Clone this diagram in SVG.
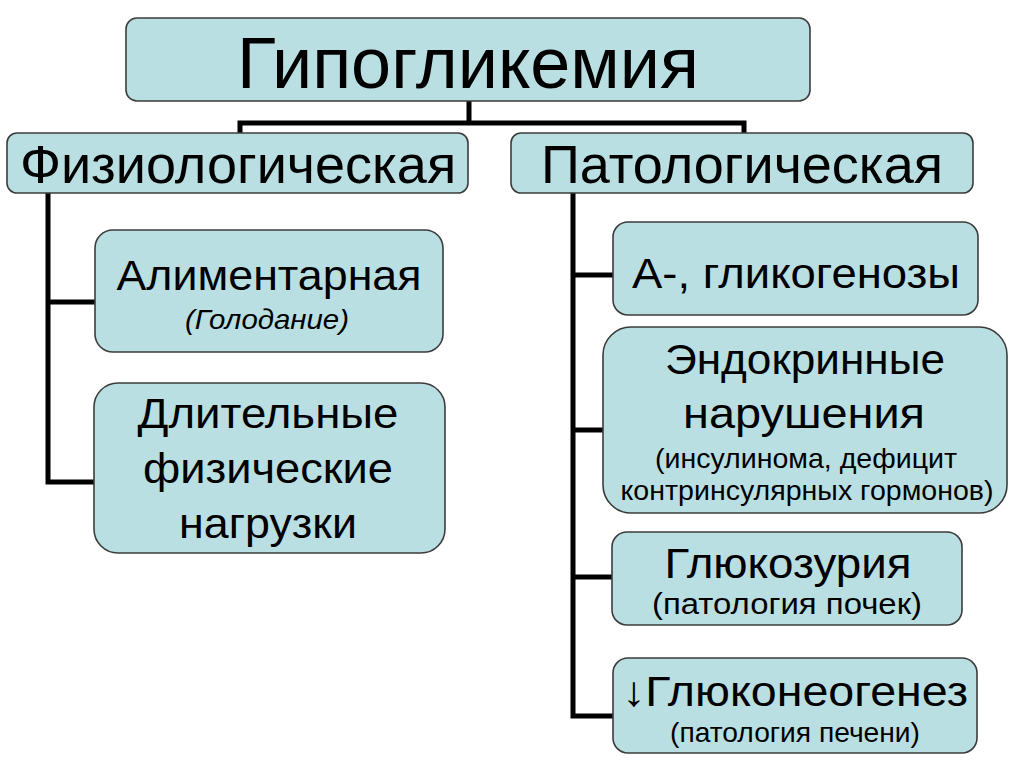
<svg xmlns="http://www.w3.org/2000/svg" width="1024" height="767" viewBox="0 0 1024 767">
<style>
.box{fill:#badfe2;stroke:#3c3c3c;stroke-width:1.6}
.t{font-family:"Liberation Sans",Arial,sans-serif;fill:#000;text-anchor:middle}
.conn{fill:none;stroke:#000;stroke-width:5;stroke-linejoin:miter;stroke-linecap:butt}
</style>
<rect width="1024" height="767" fill="#fff"/>
<g id="connectors" class="conn">
<polyline points="240,134 240,123 744,123 744,134"/>
<line x1="469" y1="101" x2="469" y2="123"/>
<polyline points="48,193 48,482 95,482"/>
<line x1="48" y1="302" x2="95" y2="302"/>
<polyline points="573,193 573,716 614,716"/>
<line x1="573" y1="275" x2="614" y2="275"/>
<line x1="573" y1="430" x2="604" y2="430"/>
<line x1="573" y1="577" x2="613" y2="577"/>
</g>
<g id="n-root">
<rect class="box" x="126" y="18" width="684" height="83" rx="11"/>
<text class="t" x="468" y="88" font-size="73" textLength="462" lengthAdjust="spacingAndGlyphs">Гипогликемия</text>
</g>
<g id="n-phys">
<rect class="box" x="7" y="133" width="461" height="60" rx="10"/>
<text class="t" x="238" y="183" font-size="54">Физиологическая</text>
</g>
<g id="n-path">
<rect class="box" x="511" y="133" width="462" height="60" rx="10"/>
<text class="t" x="742" y="183" font-size="54">Патологическая</text>
</g>
<g id="n-alim">
<rect class="box" x="95" y="230" width="348" height="122" rx="18"/>
<text class="t" x="269" y="290" font-size="42" textLength="305" lengthAdjust="spacingAndGlyphs">Алиментарная</text>
<text class="t" x="267" y="329" font-size="28" font-style="italic" textLength="164" lengthAdjust="spacingAndGlyphs">(Голодание)</text>
</g>
<g id="n-dlit">
<rect class="box" x="94" y="383" width="351" height="170" rx="24"/>
<text class="t" x="268" y="428" font-size="42" textLength="261" lengthAdjust="spacingAndGlyphs">Длительные</text>
<text class="t" x="268" y="483" font-size="42" textLength="250" lengthAdjust="spacingAndGlyphs">физические</text>
<text class="t" x="268" y="538" font-size="42" textLength="178" lengthAdjust="spacingAndGlyphs">нагрузки</text>
</g>
<g id="n-glyk">
<rect class="box" x="613" y="222" width="365" height="93" rx="15"/>
<text class="t" x="796" y="288" font-size="42" textLength="328" lengthAdjust="spacingAndGlyphs">А-, гликогенозы</text>
</g>
<g id="n-endo">
<rect class="box" x="603" y="327" width="404" height="186" rx="28"/>
<text class="t" x="805" y="374" font-size="42" textLength="280" lengthAdjust="spacingAndGlyphs">Эндокринные</text>
<text class="t" x="804" y="428" font-size="42" textLength="242" lengthAdjust="spacingAndGlyphs">нарушения</text>
<text class="t" x="806" y="468" font-size="28" textLength="302" lengthAdjust="spacingAndGlyphs">(инсулинома, дефицит</text>
<text class="t" x="807" y="500" font-size="28" textLength="373" lengthAdjust="spacingAndGlyphs">контринсулярных гормонов)</text>
</g>
<g id="n-gluk">
<rect class="box" x="612" y="532" width="350" height="93" rx="15"/>
<text class="t" x="788" y="578" font-size="42" textLength="247" lengthAdjust="spacingAndGlyphs">Глюкозурия</text>
<text class="t" x="787" y="614" font-size="30" textLength="270" lengthAdjust="spacingAndGlyphs">(патология почек)</text>
</g>
<g id="n-neo">
<rect class="box" x="613" y="658" width="364" height="95" rx="15"/>
<text class="t" x="795" y="706" font-size="42" textLength="346" lengthAdjust="spacingAndGlyphs">↓Глюконеогенез</text>
<text class="t" x="795" y="742" font-size="28" textLength="250" lengthAdjust="spacingAndGlyphs">(патология печени)</text>
</g>
</svg>
